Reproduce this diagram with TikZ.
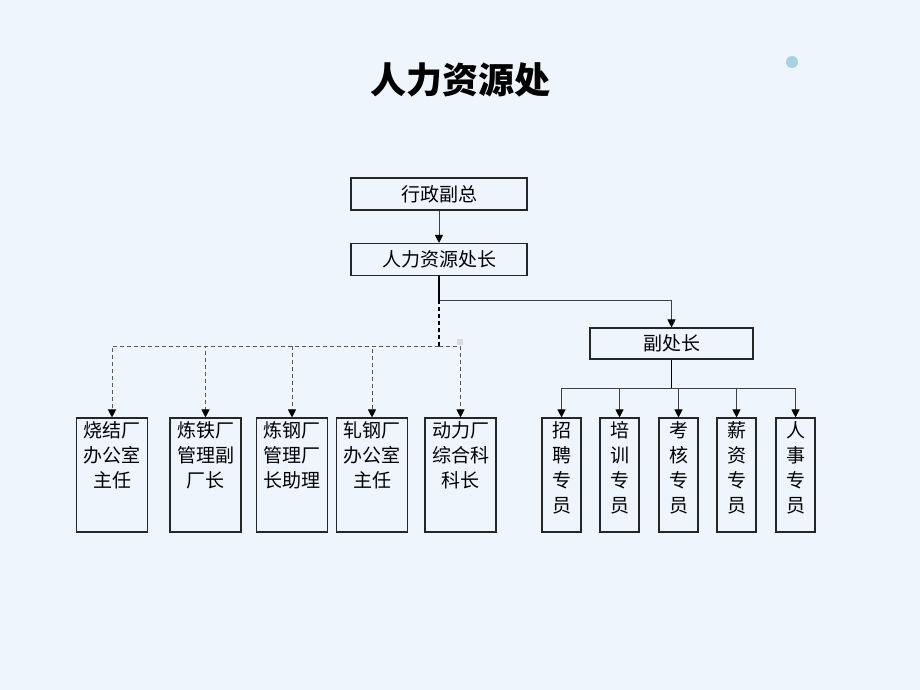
\documentclass[tikz,border=0pt]{standalone}
\usepackage{fontspec}
\setmainfont{Noto Sans CJK SC}
\usetikzlibrary{positioning, arrows.meta}

\definecolor{pagebg}{HTML}{EFF5FC}
\definecolor{dotblue}{HTML}{A8D2E3}

\begin{document}
\begin{tikzpicture}[x=1pt, y=-1pt,
    box/.style={draw=black!85, line width=1.1pt, inner sep=0pt},
    unitbox/.style={box, minimum width=71pt, minimum height=114pt},
    staffbox/.style={box, minimum width=39pt, minimum height=114pt},
    boxtext/.style={inner sep=0pt, align=center, font=\fontsize{19}{25}\selectfont},
    link/.style={draw=black!75, line width=0.9pt, -{Triangle[width=8pt,length=8pt,color=black]}},
    dlink/.style={link, draw=black!65, dash pattern=on 4pt off 3pt}]

  \fill[pagebg] (0,0) rectangle (920,690);
  \useasboundingbox (0,0) rectangle (920,690);
  \fill[dotblue] (792,62) circle (6);

  \node[font=\fontsize{36}{42}\selectfont\bfseries] (title) at (460,80) {人力资源处};

  % top of the chart
  \node[box, minimum width=176pt, minimum height=32pt, font=\fontsize{19}{25}\selectfont] (vp)   at (439,194)   {行政副总};
  \node[box, minimum width=176pt, minimum height=32pt, font=\fontsize{19}{25}\selectfont] (head) at (439,259.5) {人力资源处长};
  \node[box, minimum width=163pt, minimum height=31pt, font=\fontsize{19}{25}\selectfont] (dep)  at (671.5,343.5) {副处长};

  % plants
  \node[unitbox] (u1) at (112,475)   {};
  \node[unitbox] (u2) at (205.5,475) {};
  \node[unitbox] (u3) at (292,475)   {};
  \node[unitbox] (u4) at (372,475)   {};
  \node[unitbox] (u5) at (460.5,475) {};
  \node[boxtext, below=4pt of u1.north] (t1) {烧结厂\\办公室\\主任};
  \node[boxtext, below=4pt of u2.north] (t2) {炼铁厂\\管理副\\厂长};
  \node[boxtext, below=4pt of u3.north] (t3) {炼钢厂\\管理厂\\长助理};
  \node[boxtext, below=4pt of u4.north] (t4) {轧钢厂\\办公室\\主任};
  \node[boxtext, below=4pt of u5.north] (t5) {动力厂\\综合科\\科长};

  % staff
  \node[staffbox] (s1) at (561.5,475) {};
  \node[staffbox] (s2) at (619.5,475) {};
  \node[staffbox] (s3) at (678.5,475) {};
  \node[staffbox] (s4) at (736.5,475) {};
  \node[staffbox] (s5) at (795.5,475) {};
  \node[boxtext, below=4pt of s1.north] (p1) {招\\聘\\专\\员};
  \node[boxtext, below=4pt of s2.north] (p2) {培\\训\\专\\员};
  \node[boxtext, below=4pt of s3.north] (p3) {考\\核\\专\\员};
  \node[boxtext, below=4pt of s4.north] (p4) {薪\\资\\专\\员};
  \node[boxtext, below=4pt of s5.north] (p5) {人\\事\\专\\员};

  % connectors
  \coordinate (fork) at (439,300);
  \coordinate (dj) at (439,346);
  \coordinate (rj) at (671.5,388);

  \draw[link] (vp) -- (head);
  \draw[black, line width=1.4pt] (head.south) -- (fork);
  \draw[link] (fork) -| (dep);
  \draw[black, line width=1.6pt, dash pattern=on 4pt off 3pt] (fork) -- (dj);
  \foreach \i in {1,...,5}
    \draw[dlink] (dj) -| (u\i);
  \fill[black!15] (457,339) rectangle (463,345);

  \draw[black, line width=1.6pt] (dep) -- (rj);
  \foreach \i in {1,...,5}
    \draw[link] (rj) -| (s\i);
\end{tikzpicture}
\end{document}
